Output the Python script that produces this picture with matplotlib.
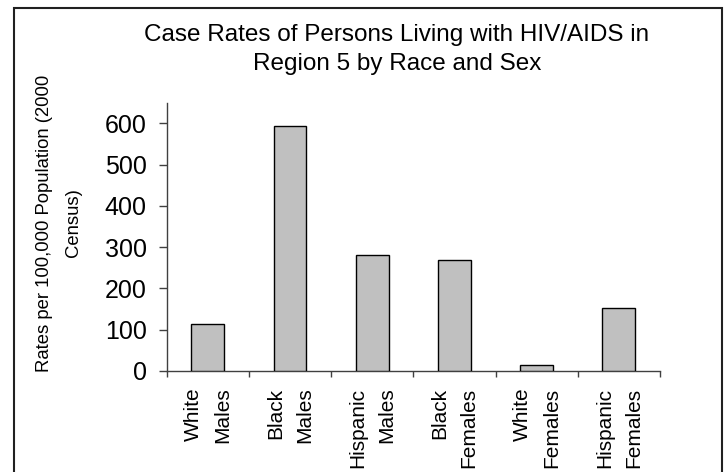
import matplotlib
matplotlib.use("Agg")
import matplotlib.pyplot as plt
from matplotlib.patches import Rectangle

categories = ["White\nMales", "Black\nMales", "Hispanic\nMales",
              "Black\nFemales", "White\nFemales", "Hispanic\nFemales"]
rates = [115, 593, 282, 269, 14, 153]
yticks = [0, 100, 200, 300, 400, 500, 600]

plt.rcParams['font.family'] = ['Liberation Sans', 'DejaVu Sans']

W, H = 728, 472
fig = plt.figure(figsize=(W / 100, H / 100), dpi=100)
ax = fig.add_axes([166.7 / W, 1 - 371 / H, (660 - 166.7) / W, (371 - 102.7) / H])

x = list(range(len(categories)))
ax.bar(x, rates, width=0.40, color="#C0C0C0", edgecolor="black", linewidth=1.0, zorder=3)

ax.set_xlim(-0.5, len(categories) - 0.5)
ax.set_ylim(0, 650)
ax.set_yticks(yticks)
ax.set_yticklabels([str(v) for v in yticks], fontsize=18)

ax.set_xticks([i - 0.5 for i in range(len(categories) + 1)])
ax.set_xticklabels([])
ax.set_xticks(x, minor=True)
ax.set_xticklabels(categories, minor=True, rotation=90, fontsize=15,
                   va="top", ha="center", multialignment="right", linespacing=1.68)
ax.tick_params(axis="x", which="minor", length=0, pad=12)
ax.tick_params(axis="x", which="major", length=4, width=1, direction="out", color="#404040")
ax.tick_params(axis="y", length=5.5, width=1, direction="out", color="#404040", pad=9)

for s in ["top", "right"]:
    ax.spines[s].set_visible(False)
for s in ["left", "bottom"]:
    ax.spines[s].set_color("#404040")
    ax.spines[s].set_linewidth(1.0)

fig.text(59 / W, 1 - 223 / H, "Rates per 100,000 Population (2000\nCensus)",
         rotation=90, ha="center", va="center", multialignment="center",
         fontsize=13.3, linespacing=1.9)

fig.text(397 / W, 1 - 49.5 / H,
         "Case Rates of Persons Living with HIV/AIDS in\nRegion 5 by Race and Sex",
         ha="center", va="center", multialignment="center", fontsize=17.5, linespacing=1.37)

fig.patches.append(Rectangle((13.5 / W, -0.05), (722 - 13.5) / W, 1.05 - 8.3 / H,
                             transform=fig.transFigure, fill=False,
                             edgecolor="#202020", linewidth=1.5))

fig.savefig("out.png", dpi=100)
